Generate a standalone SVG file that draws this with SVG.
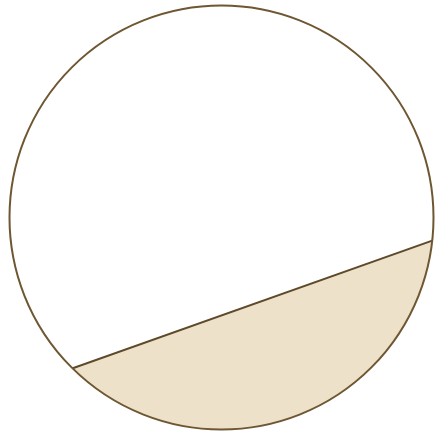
<svg xmlns="http://www.w3.org/2000/svg" width="435" height="435" viewBox="0 0 435 435">
<style>
.edge{fill:none;stroke:#6e5732;stroke-width:2}
.fillseg{fill:#ede2c9;stroke:none}
.chord{stroke:#5e4a2a;stroke-width:2}
</style>
<defs>
<clipPath id="disc"><circle cx="221.5" cy="217.5" r="212"/></clipPath>
</defs>
<rect width="435" height="435" fill="#ffffff"/>
<g id="segment" clip-path="url(#disc)">
<polygon class="fillseg" points="0,394.1 435,239.6 435,435 0,435"/>
<line class="chord" x1="0" y1="394.1" x2="435" y2="239.6"/>
</g>
<g id="circle">
<circle class="edge" cx="221.5" cy="217.5" r="212"/>
</g>
</svg>
